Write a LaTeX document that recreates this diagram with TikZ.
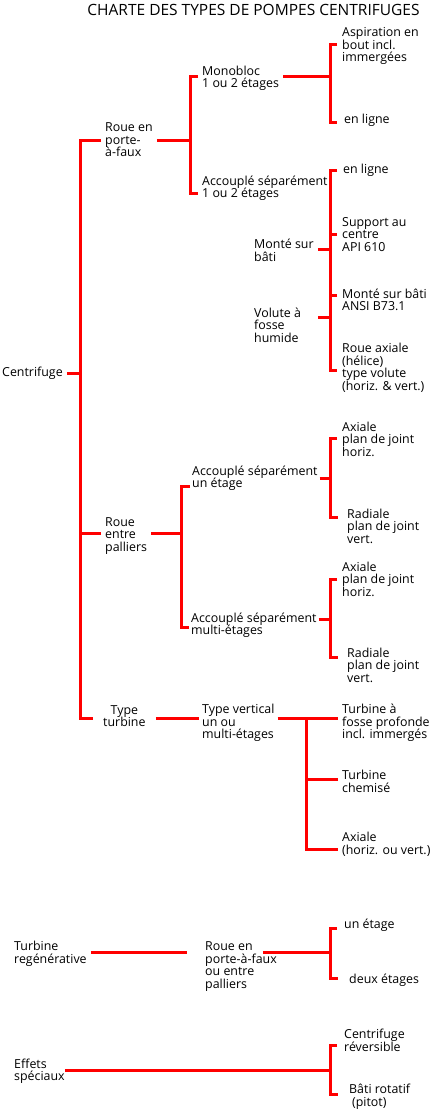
\documentclass[tikz,border=0pt]{standalone}
\usepackage{fontspec}
\setmainfont{Open Sans}
\newcommand{\lblfont}{\fontsize{12.4}{12.5}\selectfont}

\begin{document}
\begin{tikzpicture}[x=1pt, y=-1pt,
  lbl/.style={anchor=west, align=left, inner ysep=1pt, inner xsep=#1, xshift=-#1, font=\lblfont},
  lbl/.default=4pt,
  heading/.style={inner sep=0pt, font=\fontsize{15.5}{17}\selectfont},
  link/.style={draw=red, line width=3pt}]
\useasboundingbox (0,0) rectangle (434,1113);

\node[heading] (titre) at (253.5,10) {CHARTE DES TYPES DE POMPES CENTRIFUGES};

% niveau 0 et 1
\node[lbl] (centri) at (2,373) {Centrifuge};
\node[lbl] (rpf) at (105,140) {Roue en\\porte-\\à-faux};
\node[lbl] (rep) at (105,536) {Roue\\entre\\palliers};
\node[lbl=10pt, align=center] (tt) at (103,716) {Type\\turbine};

% roue en porte-a-faux
\node[lbl] (mono) at (202,78.5) {Monobloc\\1 ou 2 étages};
\node[lbl] (acc1) at (202,188) {Accouplé séparément\\1 ou 2 étages};
\node[lbl=5pt] (asp) at (342,46) {Aspiration en\\bout incl.\\immergées};
\node[lbl=7pt] (enl1) at (344,120) {en ligne};
\node[lbl=6pt] (enl2) at (343,170) {en ligne};
\node[lbl=5pt] (sup) at (342,234.5) {Support au\\centre\\API 610};
\node[lbl=5pt] (ansi) at (342,300) {Monté sur bâti\\ANSI B73.1};
\node[lbl=5pt] (axh) at (342,368) {Roue axiale\\(hélice)\\type volute\\(horiz. \& vert.)};
\node[lbl] (msb) at (254,250.5) {Monté sur\\bâti};
\node[lbl] (vfh) at (254,325) {Volute à\\fosse\\humide};

% roue entre palliers
\node[lbl=2pt] (acc2) at (192,478) {Accouplé séparément\\un étage};
\node[lbl=2pt] (acc3) at (191,625) {Accouplé séparément\\multi-étages};
\node[lbl=5pt] (ax1) at (342,439) {Axiale\\plan de joint\\horiz.};
\node[lbl=9pt] (rad1) at (347,526) {Radiale\\plan de joint\\vert.};
\node[lbl=5pt] (ax2) at (342,579) {Axiale\\plan de joint\\horiz.};
\node[lbl=9pt] (rad2) at (347,665) {Radiale\\plan de joint\\vert.};

% type turbine
\node[lbl=3pt] (tv) at (202,723) {Type vertical\\un ou\\multi-étages};
\node[lbl] (tfp) at (342,723) {Turbine à\\fosse profonde\\incl. immergés};
\node[lbl] (tch) at (342,781.5) {Turbine\\chemisé};
\node[lbl] (axhv) at (342,844.5) {Axiale\\(horiz. ou vert.)};

% turbine regenerative, effets speciaux
\node[lbl] (treg) at (14,954) {Turbine\\regénérative};
\node[lbl=18pt] (rpe) at (205,966.5) {Roue en\\porte-à-faux\\ou entre\\palliers};
\node[lbl=7pt] (une) at (344,925) {un étage};
\node[lbl=11pt] (deux) at (349,980) {deux étages};
\node[lbl=0pt] (eff) at (14,1071) {Effets\\spéciaux};
\node[lbl=7pt] (crev) at (344,1040.5) {Centrifuge\\réversible};
\node[lbl=11pt] (bati) at (349,1096.5) {Bâti rotatif\\\hspace{3pt}(pitot)};

% liaisons
\coordinate (t0) at (80,373);
\draw[link] (centri.east) -- (t0);
\draw[link] (rpf.west) -| (t0) |- ([yshift=-2]tt.west);
\draw[link] ([yshift=3]rep.west) -| (t0);

\coordinate (j1) at (190,140);
\draw[link] (rpf.east |- j1) -- (j1);
\draw[link] ([yshift=1.5]mono.west) -| (j1) |- ([yshift=-5]acc1.west);

\coordinate (j2) at (330,77);
\draw[link] (mono.east |- j2) -- (j2);
\draw[link] ([yshift=1]asp.west) -| (j2) |- ([yshift=-3]enl1.west);

\coordinate (j3) at (330,249);
\coordinate (j4) at (330,317);
\draw[link] (enl2.west) -| (j3) |- ([yshift=-2]axh.west);
\draw[link] (sup.west) -- (sup.west -| j3);
\draw[link] ([yshift=5]ansi.west) -- ([yshift=5]ansi.west -| j3);
\draw[link] (msb.east |- j3) -- (j3);
\draw[link] (j4) -- (j4 -| msb.east);

\coordinate (j5) at (181,533);
\draw[link] (rep.east |- j5) -- (j5);
\draw[link] ([yshift=-8]acc2.west) -| (j5) |- ([yshift=-2]acc3.west);

\coordinate (j6) at (330,478);
\draw[link] (acc2.east |- j6) -- (j6);
\draw[link] ([yshift=1]ax1.west) -| (j6) |- ([yshift=9]rad1.west);

\coordinate (j7) at (330,619);
\draw[link] ([yshift=6]acc3.east) -- (j7);
\draw[link] (ax2.west) -| (j7) |- ([yshift=8]rad2.west);

\coordinate (j8) at (306,718);
\draw[link] ([yshift=-2]tt.east) -- ([yshift=5]tv.west);
\draw[link] ([yshift=5]tv.east) -- ([yshift=5]tfp.west);
\draw[link] (j8) |- ([yshift=-4.5]axhv.west);
\draw[link] ([yshift=2.5]tch.west) -- ([yshift=2.5]tch.west -| j8);

\coordinate (j9) at (330,952);
\coordinate (k9) at ([xshift=-32]rpe.east);
\draw[link] (treg.east |- j9) -- (rpe.west |- j9);
\draw[link] (k9 |- j9) -- (j9);
\draw[link] ([yshift=-3]une.west) -| (j9) |- ([yshift=2]deux.west);

\coordinate (j10) at (330,1070);
\draw[link] (eff.east |- j10) -- (j10);
\draw[link] ([yshift=-4.5]crev.west) -| (j10) |- ([yshift=2.5]bati.west);
\end{tikzpicture}
\end{document}
